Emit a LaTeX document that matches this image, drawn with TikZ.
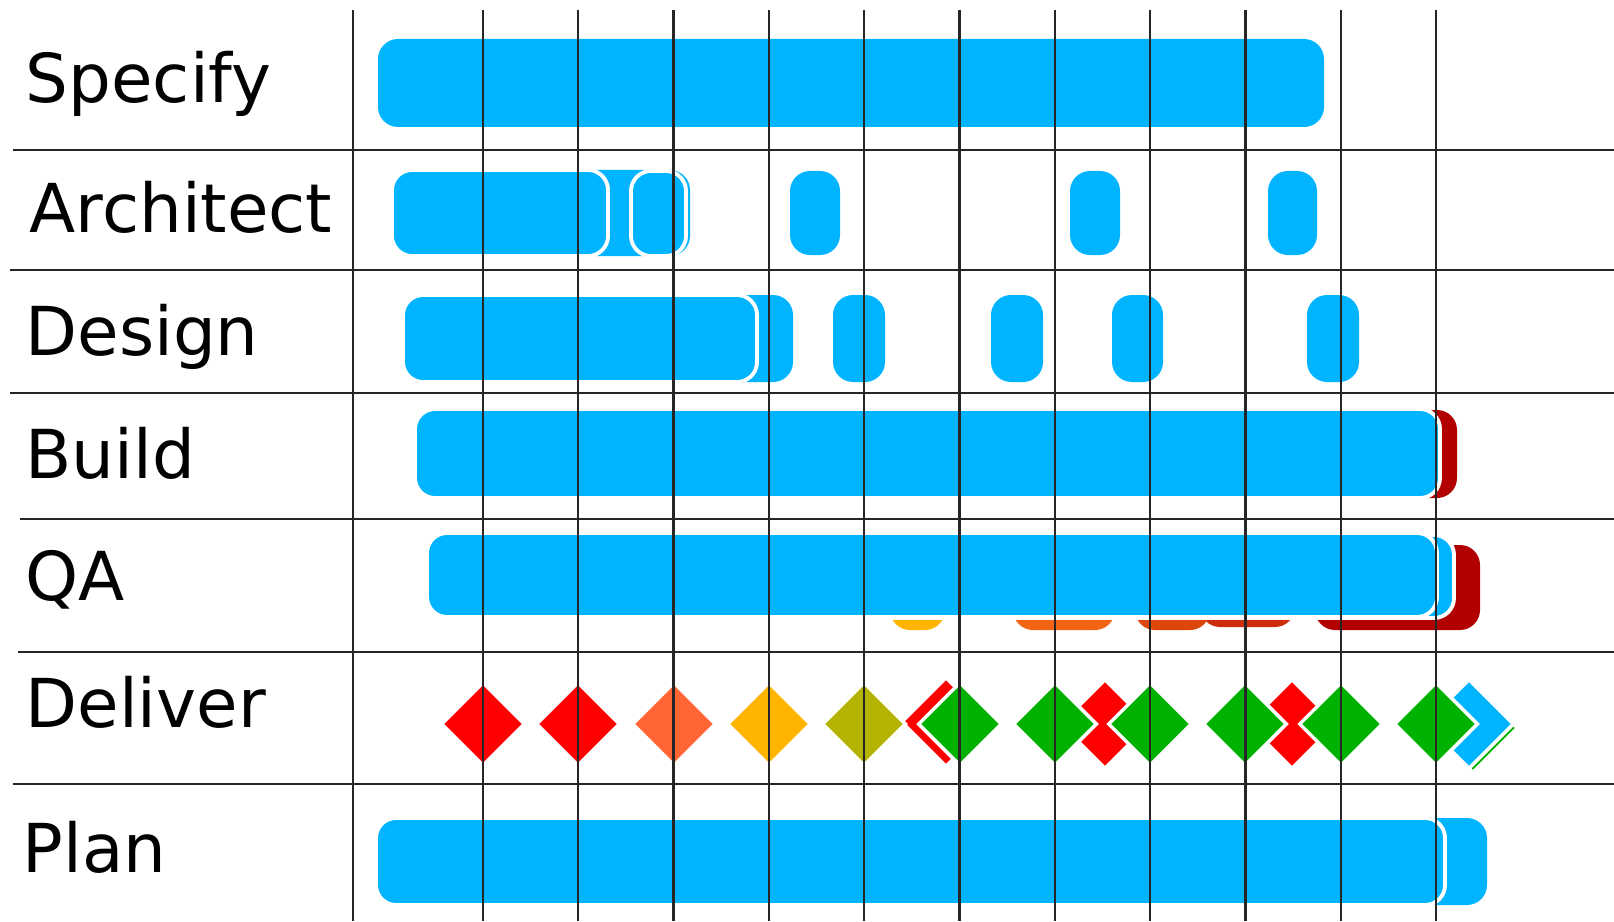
\documentclass[tikz,border=0pt]{standalone}
\usepackage{fontspec}
\setmainfont{DejaVu Sans}
\usetikzlibrary{shapes.geometric}

\definecolor{barblue}{RGB}{0,180,255}
\definecolor{latered}{RGB}{178,0,0}
\definecolor{msred}{RGB}{255,0,0}
\definecolor{msorange}{RGB}{255,102,51}
\definecolor{msamber}{RGB}{255,180,0}
\definecolor{msolive}{RGB}{180,180,0}
\definecolor{msgreen}{RGB}{0,178,0}
\definecolor{qaorange}{RGB}{240,100,20}
\definecolor{qarust}{RGB}{220,70,10}
\definecolor{qabrick}{RGB}{205,45,10}

\begin{document}
\begin{tikzpicture}[
  y=-1cm,
  rowname/.style={anchor=base west, inner sep=0pt, font=\fontsize{19.2}{23}\selectfont},
  bar/.style={fill=barblue, rounded corners=0.2cm},
  topbar/.style={bar, draw=white, line width=1.1pt},
  gridline/.style={draw=black!85, line width=0.65pt},
  ms/.style={diamond, aspect=1, inner sep=0pt, minimum width=0.84cm, minimum height=0.84cm, draw=white, line width=1pt},
  msbig/.style={ms, minimum width=0.9cm, minimum height=0.9cm}
]
\useasboundingbox (0,0) rectangle (16.14,9.21);

% Specify
\fill[bar] (3.78,0.39) rectangle (13.24,1.27);

% Architect
\fill[bar] (3.92,1.70) rectangle (6.90,2.56);
\filldraw[topbar] (3.92,1.70) rectangle (6.08,2.56);
\filldraw[topbar] (6.31,1.71) rectangle (6.86,2.56);
\fill[bar] (7.90,1.71) rectangle (8.40,2.55);
\fill[bar] (10.70,1.71) rectangle (11.20,2.55);
\fill[bar] (12.68,1.71) rectangle (13.17,2.55);

% Design
\fill[bar] (4.03,2.95) rectangle (7.93,3.82);
\filldraw[topbar] (4.03,2.95) rectangle (7.57,3.82);
\fill[bar] (8.33,2.95) rectangle (8.85,3.82);
\fill[bar] (9.91,2.95) rectangle (10.43,3.82);
\fill[bar] (11.12,2.95) rectangle (11.63,3.82);
\fill[bar] (13.07,2.95) rectangle (13.59,3.82);

% Build
\fill[bar, fill=latered] (4.15,4.10) rectangle (14.57,4.98);
\filldraw[topbar] (4.15,4.09) rectangle (14.40,4.98);

% QA
\fill[bar, fill=msamber] (8.90,5.45) rectangle (9.45,6.30);
\fill[bar, fill=qaorange] (10.13,5.45) rectangle (11.15,6.30);
\fill[bar, fill=qabrick] (12.00,5.45) rectangle (12.95,6.27);
\fill[bar, fill=qarust] (11.35,5.45) rectangle (12.10,6.30);
\fill[bar, fill=latered] (13.15,5.45) rectangle (14.80,6.30);
\filldraw[topbar] (4.27,5.35) rectangle (14.54,6.18);
\filldraw[topbar] (4.27,5.33) rectangle (14.37,6.17);

% Deliver
\node[msbig, fill=msred] (late1) at (9.46,7.22) {};
\node[msbig, fill=msred] (late2) at (11.05,7.24) {};
\node[msbig, fill=msred] (late3) at (12.92,7.24) {};
\node[msbig, fill=msgreen] (extra) at (14.73,7.28) {};
\node[msbig, fill=barblue] (next) at (14.69,7.24) {};
\foreach \x/\c [count=\i] in {4.83/msred, 5.78/msred, 6.74/msorange, 7.69/msamber, 8.64/msolive,
    9.60/msgreen, 10.55/msgreen, 11.50/msgreen, 12.45/msgreen, 13.41/msgreen, 14.36/msgreen}
  \node[ms, fill=\c] (m\i) at (\x,7.24) {};

% Plan
\fill[bar] (3.76,8.18) rectangle (14.87,9.05);
\filldraw[topbar] (3.76,8.18) rectangle (14.45,9.05);

% grid
\draw[gridline] (3.53,0.10) -- (3.53,9.21);
\foreach \i in {0,...,10}
  \draw[gridline] ({4.83+0.953*\i},0.10) -- ({4.83+0.953*\i},9.21);
\foreach \y/\x in {1.50/0.13, 2.70/0.10, 3.93/0.10, 5.19/0.20, 6.52/0.18, 7.84/0.13}
  \draw[gridline] (\x,\y) -- (16.14,\y);

\node[rowname] (specify) at (0.25,1.03) {Specify};
\node[rowname] (architect) at (0.29,2.32) {Architect};
\node[rowname] (design) at (0.25,3.55) {Design};
\node[rowname] (build) at (0.25,4.78) {Build};
\node[rowname] (qa) at (0.25,6.00) {QA};
\node[rowname] (deliver) at (0.25,7.27) {Deliver};
\node[rowname] (plan) at (0.22,8.72) {Plan};

\end{tikzpicture}
\end{document}
